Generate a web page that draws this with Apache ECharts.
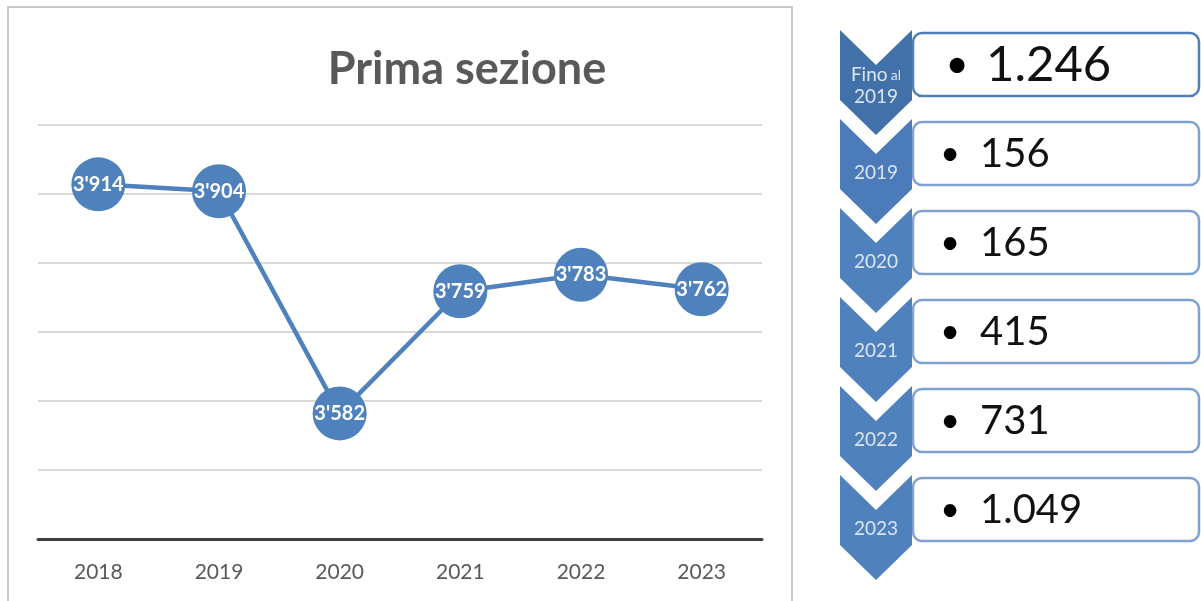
<!DOCTYPE html>
<html>
<head>
<meta charset="utf-8">
<script src="https://cdn.jsdelivr.net/npm/echarts@6/dist/echarts.min.js"></script>
<style>
  html, body { margin: 0; padding: 0; background: #fff; }
  #main { width: 1201px; height: 601px; }
</style>
</head>
<body>
<div id="main"></div>
<script>
// dati del grafico
var anni = ['2018', '2019', '2020', '2021', '2022', '2023'];
var valori = [3914, 3904, 3582, 3759, 3783, 3762];

// pannello a destra (frecce + riquadri)
var passiEtichette = ['Fino al\n2019', '2019', '2020', '2021', '2022', '2023'];
var passiValori = ['1.246', '156', '165', '415', '731', '1.049'];

var FONT = 'Lato, "Open Sans", sans-serif';

function fmt(v) {
  var s = String(v);
  return s.slice(0, s.length - 3) + "'" + s.slice(-3);
}

var myChart = echarts.init(document.getElementById('main'));

var graphic = [
  {
    type: 'rect',
    shape: { x: 8, y: 7, width: 784, height: 620 },
    style: { fill: 'none', stroke: '#c9c9c9', lineWidth: 2 },
    silent: true,
    z: -10
  }
];

passiEtichette.forEach(function (lab, i) {
  var t = 30 + i * 89;
  var col = i === 0 ? '#4270a8' : (i === 1 ? '#4b7bb8' : '#4f81bd');
  graphic.push({
    type: 'polygon',
    shape: { points: [[840, t], [876, t + 35], [912, t], [912, t + 70], [876, t + 105], [840, t + 70]] },
    style: { fill: col },
    z: 5
  });
  if (i === 0) {
    graphic.push({
      type: 'text',
      x: 876, y: t + 56,
      style: {
        text: '{a|Fino} {b|al}\n{a|2019}',
        rich: {
          a: { fontSize: 19, fill: '#dbe5f1', fontFamily: FONT, lineHeight: 22 },
          b: { fontSize: 14, fill: '#dbe5f1', fontFamily: FONT, lineHeight: 22 }
        },
        align: 'center', verticalAlign: 'middle'
      },
      z: 6
    });
  } else {
    graphic.push({
      type: 'text',
      x: 876, y: t + 54,
      style: { text: lab, fontSize: 19, fill: '#dbe5f1', fontFamily: FONT, align: 'center', verticalAlign: 'middle' },
      z: 6
    });
  }
  graphic.push({
    type: 'rect',
    shape: { x: 913, y: t + 3, width: 286, height: 63, r: 9 },
    style: { fill: '#fff', stroke: i === 0 ? '#4f7ebb' : '#7fa2d2', lineWidth: 2.5 },
    z: 4
  });
  var big = i === 0;
  graphic.push({
    type: 'text',
    x: big ? 957 : 950, y: t + 35,
    style: { text: '•', fontSize: big ? 40 : 34, fill: '#000', fontFamily: FONT, align: 'center', verticalAlign: 'middle' },
    z: 6
  });
  graphic.push({
    type: 'text',
    x: big ? 986 : 980, y: t + 35,
    style: { text: passiValori[i], fontSize: big ? 49 : 40, fill: '#111', fontFamily: FONT, align: 'left', verticalAlign: 'middle' },
    z: 6
  });
});

myChart.setOption({
  animation: false,
  backgroundColor: '#fff',
  title: {
    text: 'Prima sezione',
    left: 462,
    textAlign: 'center',
    top: 42,
    textStyle: { fontSize: 45, fontWeight: 'bold', color: '#595959', fontFamily: FONT }
  },
  grid: { left: 38, right: 439, top: 125, bottom: 62 },
  xAxis: {
    type: 'category',
    data: anni,
    axisLine: { lineStyle: { color: '#3f3f3f', width: 3 } },
    axisTick: { show: false },
    axisLabel: { color: '#595959', fontSize: 21, margin: 23, fontFamily: FONT }
  },
  yAxis: {
    type: 'value',
    min: 3400,
    max: 4000,
    interval: 100,
    axisLabel: { show: false },
    axisLine: { show: false },
    axisTick: { show: false },
    splitLine: { lineStyle: { color: '#d9d9d9', width: 2 } }
  },
  series: [{
    type: 'line',
    data: valori,
    symbol: 'circle',
    symbolSize: 54,
    itemStyle: { color: '#4f81bd' },
    lineStyle: { color: '#4f81bd', width: 4.5 },
    label: {
      show: true,
      position: 'inside',
      formatter: function (p) { return fmt(p.value); },
      color: '#fff',
      fontSize: 20,
      fontWeight: 'bold',
      fontFamily: FONT
    }
  }],
  graphic: graphic
});
</script>
</body>
</html>
